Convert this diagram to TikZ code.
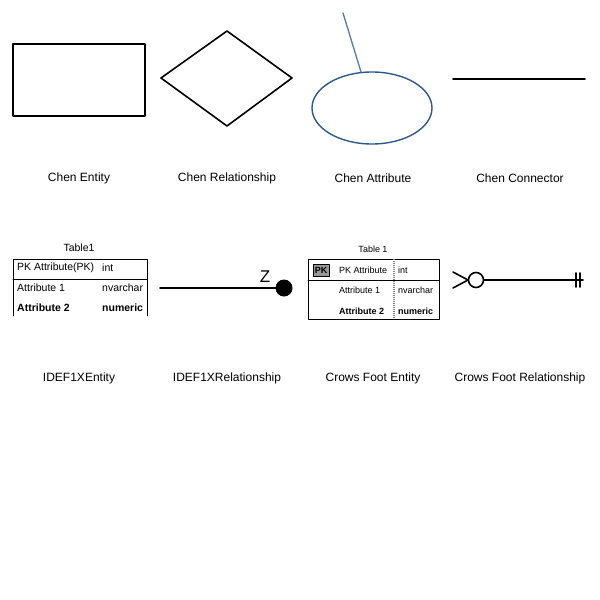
\documentclass[tikz,border=0pt]{standalone}
\usepackage{fontspec}
\setmainfont{Liberation Sans}
\usetikzlibrary{shapes.geometric}
\definecolor{attrblue}{RGB}{46,88,140}

\tikzset{
  caption/.style={font=\fontsize{12}{14}\selectfont, anchor=center},
  tabtext/.style={font=\fontsize{10.5}{12}\selectfont, anchor=west, inner sep=0pt},
  cftext/.style={font=\fontsize{9}{11}\selectfont, anchor=west, inner sep=0pt},
  shapeline/.style={line width=1.6pt},
  tabline/.style={line width=0.9pt},
}

\begin{document}
\begin{tikzpicture}[line cap=round,line join=round,x=1pt,y=-1pt]
        \useasboundingbox (0,0) rectangle (600,600);

        % top row: Chen shapes
        \draw[shapeline] (13,44) rectangle (145,116);
        \draw[shapeline] (161,78) -- (227,31) -- (292,78) -- (227,126) -- cycle;
        \draw[line width=1.4pt, attrblue] (372,108) ellipse (60 and 36);
        \draw[line width=1.3pt, attrblue!80] (343,13) -- (361,72);
        \draw[shapeline] (453,79) -- (585,79);

        \node[caption] (chenent) at (79,178) {Chen Entity};
        \node[caption] (chenrel) at (227,178) {Chen Relationship};
        \node[caption] (chenatt) at (373,178) {Chen Attribute};
        \node[caption] (chencon) at (520,178) {Chen Connector};

        % IDEF1X entity
        \node[tabtext, anchor=center] (idtitle) at (79,248) {Table1};
        \draw[tabline] (13,316) -- (13,259) -- (147,259) -- (147,316);
        \draw[tabline] (13,279) -- (147,279);
        \node[tabtext] (idpk) at (17,268) {PK Attribute(PK)};
        \node[tabtext] (idpkt) at (102,268) {int};
        \node[tabtext] (ida1) at (17,288) {Attribute 1};
        \node[tabtext] (ida1t) at (102,288) {nvarchar};
        \node[tabtext, font=\fontsize{10.5}{12}\selectfont\bfseries] (ida2) at (17,308) {Attribute 2};
        \node[tabtext, font=\fontsize{10.5}{12}\selectfont\bfseries] (ida2t) at (102,308) {numeric};

        % IDEF1X relationship
        \draw[shapeline] (160,288) -- (278,288);
        \fill (284,288) circle (8.5);
        \node[font=\fontsize{17}{19}\selectfont, inner sep=0pt] (zed) at (265,277) {Z};

        % crows foot entity
        \node[cftext, anchor=center] (cftitle) at (373,249) {Table 1};
        \draw[tabline] (308,259) rectangle (439,319);
        \draw[tabline] (308,280) -- (439,280);
        \draw[gray, line width=1.1pt, dash pattern=on 1pt off 1pt, line cap=butt] (394,259) -- (394,319);
        \node[draw, fill=gray!80, inner sep=1pt, minimum width=16, minimum height=12,
              font=\fontsize{9}{11}\selectfont\bfseries] (cfkey) at (321,270) {PK};
        \node[cftext] (cfpk) at (339,270) {PK Attribute};
        \node[cftext] (cfpkt) at (398,270) {int};
        \node[cftext] (cfa1) at (339,290) {Attribute 1};
        \node[cftext] (cfa1t) at (398,290) {nvarchar};
        \node[cftext, font=\fontsize{9}{11}\selectfont\bfseries] (cfa2) at (339,311) {Attribute 2};
        \node[cftext, font=\fontsize{9}{11}\selectfont\bfseries] (cfa2t) at (398,311) {numeric};

        % crows foot relationship
        \draw[shapeline] (453,272) -- (468,280);
        \draw[shapeline] (453,288) -- (468,280);
        \draw[shapeline] (476,280) circle (7.5);
        \draw[shapeline] (483.5,280) -- (583,280);
        \draw[shapeline] (576,273) -- (576,287);
        \draw[shapeline] (580,273) -- (580,287);

        \node[caption] (ident) at (79,378) {IDEF1XEntity};
        \node[caption] (idrel) at (227,378) {IDEF1XRelationship};
        \node[caption] (cfent) at (373,378) {Crows Foot Entity};
        \node[caption] (cfrel) at (520,378) {Crows Foot Relationship};
    \end{tikzpicture}
\end{document}
